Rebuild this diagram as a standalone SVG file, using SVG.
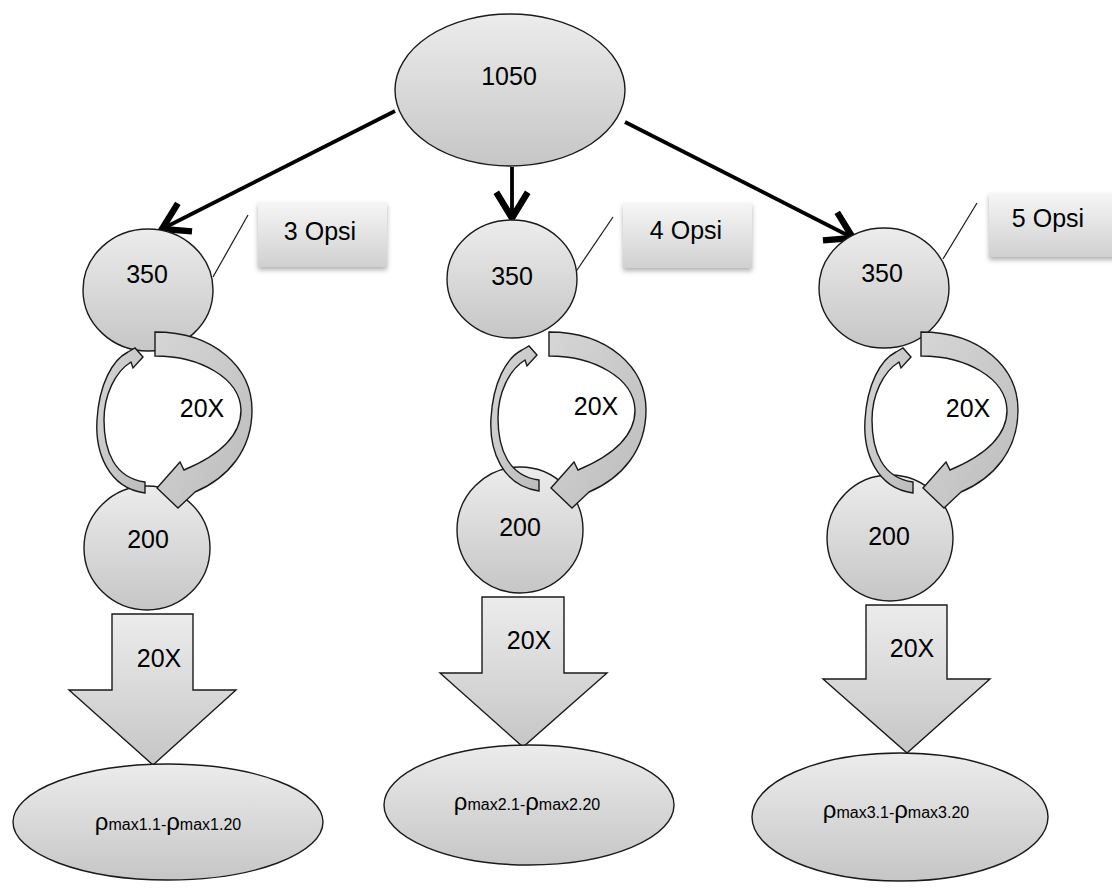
<svg xmlns="http://www.w3.org/2000/svg" width="1112" height="890" viewBox="0 0 1112 890">
<defs>
<linearGradient id="g" x1="0" y1="0" x2="0" y2="1">
<stop offset="0" stop-color="#ececec"/>
<stop offset="1" stop-color="#c6c6c6"/>
</linearGradient>
<linearGradient id="ga" x1="0" y1="0" x2="1" y2="1">
<stop offset="0" stop-color="#d6d6d6"/>
<stop offset="1" stop-color="#bcbcbc"/>
</linearGradient>
<linearGradient id="gb" x1="0" y1="0" x2="0" y2="1">
<stop offset="0" stop-color="#f6f6f6"/>
<stop offset="1" stop-color="#d0d0d0"/>
</linearGradient>
<filter id="sh" x="-20%" y="-20%" width="140%" height="150%">
<feDropShadow dx="0" dy="3" stdDeviation="2.5" flood-color="#000" flood-opacity="0.3"/>
</filter>
<marker id="chev" markerUnits="userSpaceOnUse" markerWidth="40" markerHeight="40" viewBox="-22 -14 26 28" refX="0" refY="0" orient="auto">
<path d="M-18,-11 L0,0 L-18,11" fill="none" stroke="#000" stroke-width="4.5" stroke-linejoin="miter"/>
</marker>
</defs>
<style>
.n{fill:url(#g);stroke:#1a1a1a;stroke-width:1.4}
.blk{fill:url(#g);stroke:#1a1a1a;stroke-width:1.4;stroke-linejoin:miter}
.crv{fill:url(#ga);stroke:#1a1a1a;stroke-width:1.4;stroke-linejoin:miter}
.t{font-family:"Liberation Sans",Arial,sans-serif;font-size:25px;fill:#000;text-anchor:middle}
.s{font-family:"Liberation Sans",Arial,sans-serif;fill:#000}
.box{fill:url(#gb);filter:url(#sh)}
.call{stroke:#1a1a1a;stroke-width:1.2;fill:none}
.conn{stroke:#000;stroke-width:3.8;fill:none;marker-end:url(#chev)}
</style>

<g id="connectors">
<line class="conn" x1="395" y1="111" x2="162" y2="229"/>
<line class="conn" x1="512" y1="167" x2="512" y2="218"/>
<line class="conn" x1="625" y1="122" x2="853" y2="238"/>
<line class="call" x1="248" y1="215" x2="213" y2="277"/>
<line class="call" x1="613" y1="217" x2="575" y2="273"/>
<line class="call" x1="977" y1="203" x2="943" y2="259"/>
</g>

<g id="n1050">
<ellipse class="n" cx="510" cy="90" rx="115" ry="76"/>
<text class="t" x="509" y="85">1050</text>
</g>

<!-- Left column -->
<g id="opsi3">
<rect class="box" x="258" y="202" width="129" height="65"/>
<text class="t" x="320" y="240">3 Opsi</text>
</g>
<g id="n350a">
<ellipse class="n" cx="148" cy="290" rx="65" ry="61"/>
<text class="t" x="147" y="283">350</text>
</g>
<g id="n200a">
<ellipse class="n" cx="147" cy="548" rx="63" ry="62"/>
<text class="t" x="148" y="548">200</text>
</g>
<g id="loop1">
<path class="crv" d="M155,332 C215,332 252,368 252,410 C252,450 228,478 195,492 L178,508 L157,488 L180,462 L184,470 C220,455 241,435 241,410 C240,378 200,356 155,356 Z"/>
<path class="crv" d="M145,493 C108,488 95,452 97,420 C99,385 112,360 128,352 L135,348 L143,357 L133,368 L131,362 C115,372 104,395 104,420 C104,452 115,478 145,482 Z"/>
<text class="t" x="202" y="417">20X</text>
</g>
<g id="down1">
<path class="blk" d="M112,614 L193,614 L193,690 L236,690 L153,765 L69,690 L112,690 Z"/>
<text class="t" x="159" y="667">20X</text>
</g>
<g id="res1">
<ellipse class="n" cx="168" cy="822" rx="155" ry="58"/>
<text class="s" x="168" y="830" text-anchor="middle"><tspan font-size="24">ρ</tspan><tspan font-size="16">max1.1-</tspan><tspan font-size="24">ρ</tspan><tspan font-size="16">max1.20</tspan></text>
</g>

<!-- Middle column -->
<g id="opsi4">
<rect class="box" x="623" y="203" width="129" height="65"/>
<text class="t" x="686" y="239">4 Opsi</text>
</g>
<g id="n350b">
<ellipse class="n" cx="512" cy="279" rx="65" ry="59"/>
<text class="t" x="512" y="285">350</text>
</g>
<g id="n200b">
<ellipse class="n" cx="520" cy="530" rx="63" ry="63"/>
<text class="t" x="520" y="536">200</text>
</g>
<g id="loop2">
<path class="crv" transform="translate(394,0)" d="M155,332 C215,332 252,368 252,410 C252,450 228,478 195,492 L178,508 L157,488 L180,462 L184,470 C220,455 241,435 241,410 C240,378 200,356 155,356 Z"/>
<path class="crv" transform="translate(394,-2)" d="M145,493 C108,488 95,452 97,420 C99,385 112,360 128,352 L135,348 L143,357 L133,368 L131,362 C115,372 104,395 104,420 C104,452 115,478 145,482 Z"/>
<text class="t" x="596" y="415">20X</text>
</g>
<g id="down2">
<path class="blk" d="M482,597 L564,597 L564,673 L607,673 L523,747 L440,673 L482,673 Z"/>
<text class="t" x="529" y="649">20X</text>
</g>
<g id="res2">
<ellipse class="n" cx="529" cy="805" rx="145" ry="60"/>
<text class="s" x="527" y="810" text-anchor="middle"><tspan font-size="24">ρ</tspan><tspan font-size="16">max2.1-</tspan><tspan font-size="24">ρ</tspan><tspan font-size="16">max2.20</tspan></text>
</g>

<!-- Right column -->
<g id="opsi5">
<rect class="box" x="989" y="193" width="130" height="64"/>
<text class="t" x="1048" y="227">5 Opsi</text>
</g>
<g id="n350c">
<ellipse class="n" cx="884" cy="288" rx="65" ry="60"/>
<text class="t" x="882" y="282">350</text>
</g>
<g id="n200c">
<ellipse class="n" cx="890" cy="538" rx="63" ry="63"/>
<text class="t" x="889" y="545">200</text>
</g>
<g id="loop3">
<path class="crv" transform="translate(766,0)" d="M155,332 C215,332 252,368 252,410 C252,450 228,478 195,492 L178,508 L157,488 L180,462 L184,470 C220,455 241,435 241,410 C240,378 200,356 155,356 Z"/>
<path class="crv" transform="translate(768,0)" d="M145,493 C108,488 95,452 97,420 C99,385 112,360 128,352 L135,348 L143,357 L133,368 L131,362 C115,372 104,395 104,420 C104,452 115,478 145,482 Z"/>
<text class="t" x="968" y="417">20X</text>
</g>
<g id="down3">
<path class="blk" d="M866,605 L947,605 L947,679 L990,679 L907,753 L823,679 L866,679 Z"/>
<text class="t" x="912" y="657">20X</text>
</g>
<g id="res3">
<ellipse class="n" cx="900" cy="817" rx="148" ry="64"/>
<text class="s" x="896" y="818" text-anchor="middle"><tspan font-size="24">ρ</tspan><tspan font-size="16">max3.1-</tspan><tspan font-size="24">ρ</tspan><tspan font-size="16">max3.20</tspan></text>
</g>
</svg>
